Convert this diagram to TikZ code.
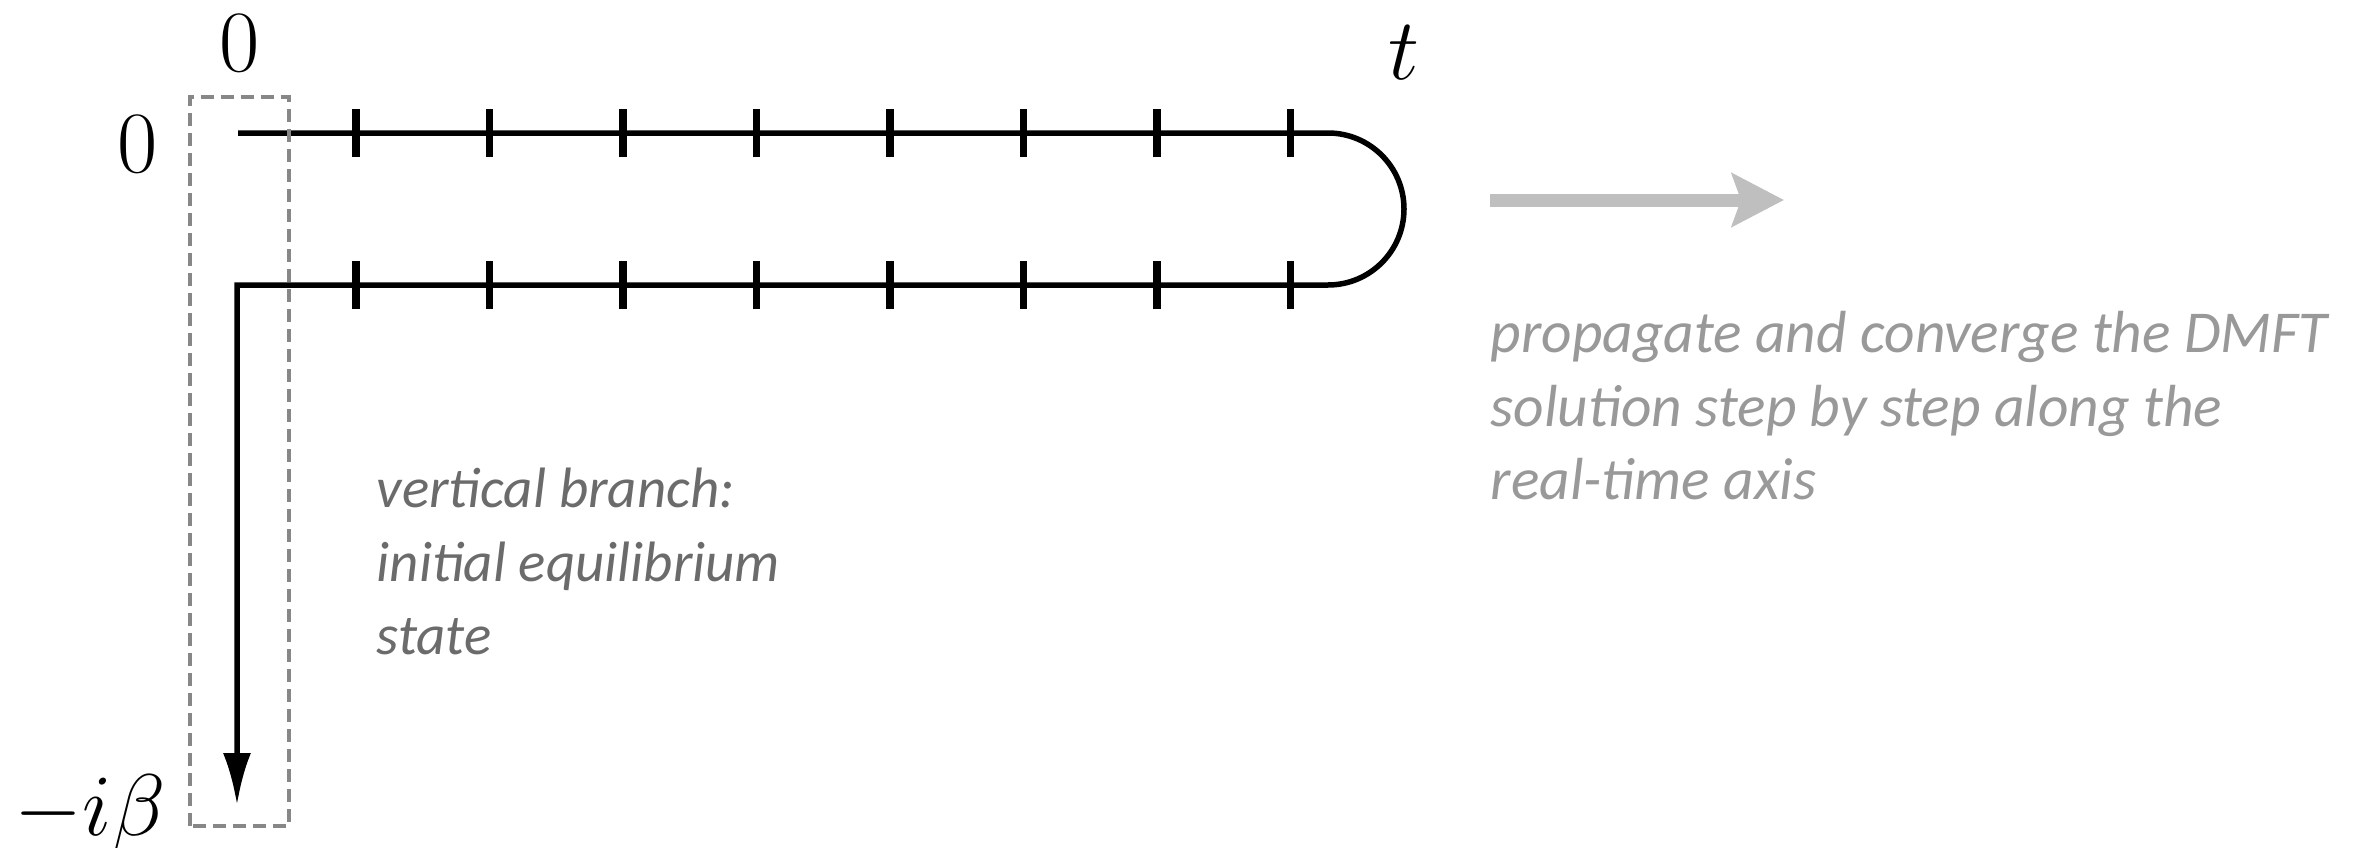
\documentclass[tikz,border=0pt]{standalone}
\usepackage{fontspec}
\setsansfont{Carlito}
\usetikzlibrary{arrows.meta}

\begin{document}
\begin{tikzpicture}[
  x=0.1mm, y=0.1mm,
  every node/.style={inner sep=0pt},
  contour/.style={line width=0.55mm, black},
  tickmark/.style={line width=0.75mm, black},
  window/.style={draw=black!47, line width=0.4mm, dash pattern=on 1.3mm off 0.7mm},
  lbl/.style={font=\fontsize{25.6}{30}\selectfont},
  note/.style={align=left},
  flow/.style={-{Stealth[length=5.2mm, width=5.3mm, inset=0.9mm]}, line width=1.3mm, black!25}
]
\useasboundingbox (0,0) rectangle (2364,847);

% Keldysh contour
\coordinate (up0) at (238,714);
\coordinate (upR) at (1328,714);
\coordinate (corner) at (237,562);
\coordinate (tip) at (237,42);
\draw[contour, -{Latex[length=5.2mm, width=2.8mm]}] (up0) -- (upR)
  arc[start angle=90, end angle=-90, radius=76] -- (corner) -- (tip);

% time steps
\foreach \k in {0,...,7} {
  \draw[tickmark] ({356+133.5*\k},690) -- ++(0,48);
  \draw[tickmark] ({356+133.5*\k},538) -- ++(0,48);
}

% window at t=0
\draw[window] (190,21) rectangle (289,750);

\node[lbl] (zeroT) at (240,804) {$0$};
\node[lbl] (zeroL) at (138,703) {$0$};
\node[lbl] (tlabel) at (1404,794) {$t$};
\node[lbl, anchor=base] (ibeta) at (90,12) {$-i\beta$};

\node[note, font=\fontsize{16.2}{21}\selectfont\sffamily\itshape, text=black!58, anchor=north west] (vert) at (376,380) {vertical branch:\\initial equilibrium\\state};

\coordinate (fl0) at (1490,647);
\coordinate (fl1) at (1784,647);
\draw[flow] (fl0) -- (fl1);
\node[note, font=\fontsize{16.9}{20.9}\selectfont\sffamily\itshape, text=black!40, anchor=north west] (prop) at (1490,536) {propagate and converge the DMFT\\solution step by step along the\\real-time axis};
\end{tikzpicture}
\end{document}
